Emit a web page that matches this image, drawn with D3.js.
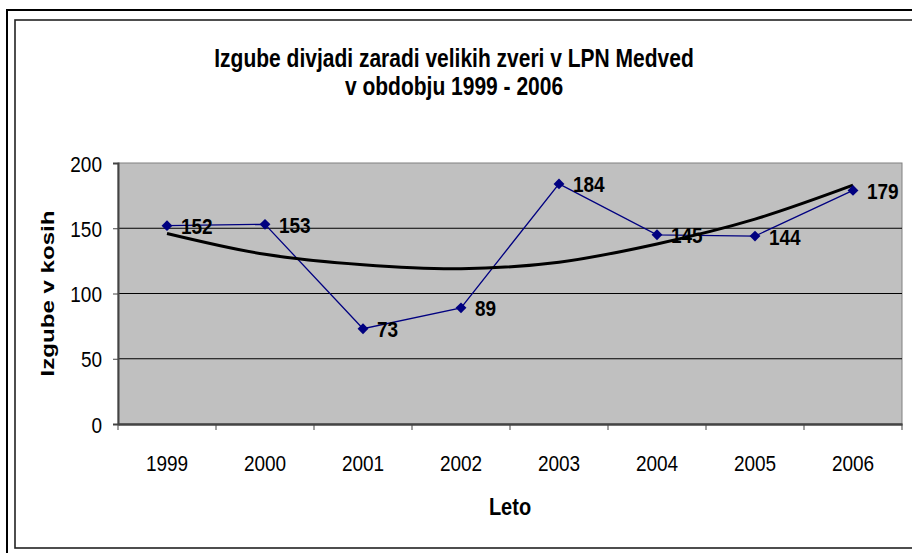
<!DOCTYPE html>
<html>
<head>
<meta charset="utf-8">
<script src="https://cdn.jsdelivr.net/npm/d3@7"></script>
<style>
  body { margin: 0; background: #fff; }
  svg { display: block; font-family: "Liberation Sans", Arial, sans-serif; }
</style>
</head>
<body>
<div id="chart"></div>
<script>
// data
var years = ["1999", "2000", "2001", "2002", "2003", "2004", "2005", "2006"];
var losses = [152, 153, 73, 89, 184, 145, 144, 179];
// polynomial trend line as it appears in the picture
var trend = [146, 130, 122, 119, 124, 138, 157, 183];
var yTicks = [0, 50, 100, 150, 200];

var titleLines = ["Izgube divjadi zaradi velikih zveri v LPN Medved", "v obdobju 1999 - 2006"];
var yTitle = "Izgube v kosih";
var xTitle = "Leto";

// size of the page and the plot area
var w = 912, h = 553;
var plot = {left: 118, right: 902, top: 163, bottom: 424};
// text in the picture is a bit taller than wide
var stretch = 1.2;

var svg = d3.select("#chart")
  .append("svg")
  .attr("width", w)
  .attr("height", h);

// frames round the chart
svg.append("rect")
  .attr("x", 7).attr("y", 10)
  .attr("width", 940).attr("height", 600)
  .attr("fill", "none")
  .attr("stroke", "#000")
  .attr("stroke-width", 2);

svg.append("rect")
  .attr("x", 15).attr("y", 20)
  .attr("width", 940).attr("height", 528)
  .attr("fill", "#fff")
  .attr("stroke", "#222")
  .attr("stroke-width", 1.6);

// scales
var x = d3.scaleBand()
  .domain(years)
  .range([plot.left, plot.right]);

var y = d3.scaleLinear()
  .domain([0, 200])
  .range([plot.bottom, plot.top]);

var px = function(d, i) { return x(years[i]) + x.bandwidth() / 2; };

// grey plot area
svg.append("rect")
  .attr("x", plot.left)
  .attr("y", plot.top)
  .attr("width", plot.right - plot.left)
  .attr("height", plot.bottom - plot.top)
  .attr("fill", "#c0c0c0")
  .attr("stroke", "#808080")
  .attr("stroke-width", 1);

// gridlines
svg.append("g")
  .selectAll("line")
  .data(yTicks.filter(function(d) { return d > 0 && d < 200; }))
  .enter().append("line")
  .attr("x1", plot.left)
  .attr("x2", plot.right)
  .attr("y1", function(d) { return y(d); })
  .attr("y2", function(d) { return y(d); })
  .attr("stroke", "#000")
  .attr("stroke-width", 1);

// y axis
var yAxis = svg.append("g")
  .attr("transform", "translate(" + plot.left + ",0)")
  .call(d3.axisLeft(y).tickValues(yTicks).tickSize(5).tickPadding(11));
yAxis.select(".domain").attr("stroke", "#444").attr("stroke-width", 2);
yAxis.selectAll(".tick line").attr("stroke", "#444");
yAxis.selectAll(".tick text")
  .attr("font-size", 19)
  .attr("fill", "#000")
  .attr("dy", null)
  .attr("transform", "translate(0,8) scale(1," + stretch + ")");

// x axis, ticks between the categories
var xAxis = svg.append("g")
  .attr("transform", "translate(0," + plot.bottom + ")")
  .call(d3.axisBottom(x).tickSize(0).tickPadding(0));
xAxis.select(".domain").attr("stroke", "#444").attr("stroke-width", 2.5);
xAxis.selectAll(".tick text")
  .attr("font-size", 19)
  .attr("fill", "#000")
  .attr("y", 0)
  .attr("dy", null)
  .attr("transform", "translate(0,47) scale(1," + stretch + ")");

svg.append("g")
  .selectAll("line")
  .data(d3.range(years.length + 1))
  .enter().append("line")
  .attr("x1", function(i) { return plot.left + i * x.step(); })
  .attr("x2", function(i) { return plot.left + i * x.step(); })
  .attr("y1", plot.bottom)
  .attr("y2", plot.bottom + 6)
  .attr("stroke", "#444")
  .attr("stroke-width", 1);

// data line
svg.append("path")
  .datum(losses)
  .attr("fill", "none")
  .attr("stroke", "#000080")
  .attr("stroke-width", 1.3)
  .attr("d", d3.line().x(px).y(function(d) { return y(d); }));

// trend line
svg.append("path")
  .datum(trend)
  .attr("fill", "none")
  .attr("stroke", "#000")
  .attr("stroke-width", 3)
  .attr("d", d3.line().x(px).y(function(d) { return y(d); }).curve(d3.curveCatmullRom));

// diamond markers
svg.append("g")
  .selectAll("path")
  .data(losses)
  .enter().append("path")
  .attr("d", d3.symbol().type(d3.symbolDiamond2).size(75))
  .attr("transform", function(d, i) { return "translate(" + px(d, i) + "," + y(d) + ")"; })
  .attr("fill", "#000080");

// data labels
svg.append("g")
  .selectAll("text")
  .data(losses)
  .enter().append("text")
  .attr("transform", function(d, i) { return "translate(" + (px(d, i) + 14) + "," + (y(d) + 8.5) + ") scale(1," + stretch + ")"; })
  .attr("font-size", 19)
  .attr("font-weight", "bold")
  .text(function(d) { return d; });

// title
svg.append("g")
  .selectAll("text")
  .data(titleLines)
  .enter().append("text")
  .attr("transform", function(d, i) { return "translate(454," + (67 + i * 28) + ") scale(1," + stretch + ")"; })
  .attr("text-anchor", "middle")
  .attr("font-size", 21)
  .attr("font-weight", "bold")
  .text(function(d) { return d; });

// axis titles
svg.append("text")
  .attr("transform", "translate(" + ((plot.left + plot.right) / 2) + ",515) scale(1," + stretch + ")")
  .attr("text-anchor", "middle")
  .attr("font-size", 20)
  .attr("font-weight", "bold")
  .text(xTitle);

svg.append("text")
  .attr("transform", "translate(54," + ((plot.top + plot.bottom) / 2) + ") rotate(-90)")
  .attr("text-anchor", "middle")
  .attr("font-size", 18)
  .attr("font-weight", "bold")
  .attr("textLength", 166)
  .attr("lengthAdjust", "spacingAndGlyphs")
  .text(yTitle);
</script>
</body>
</html>
